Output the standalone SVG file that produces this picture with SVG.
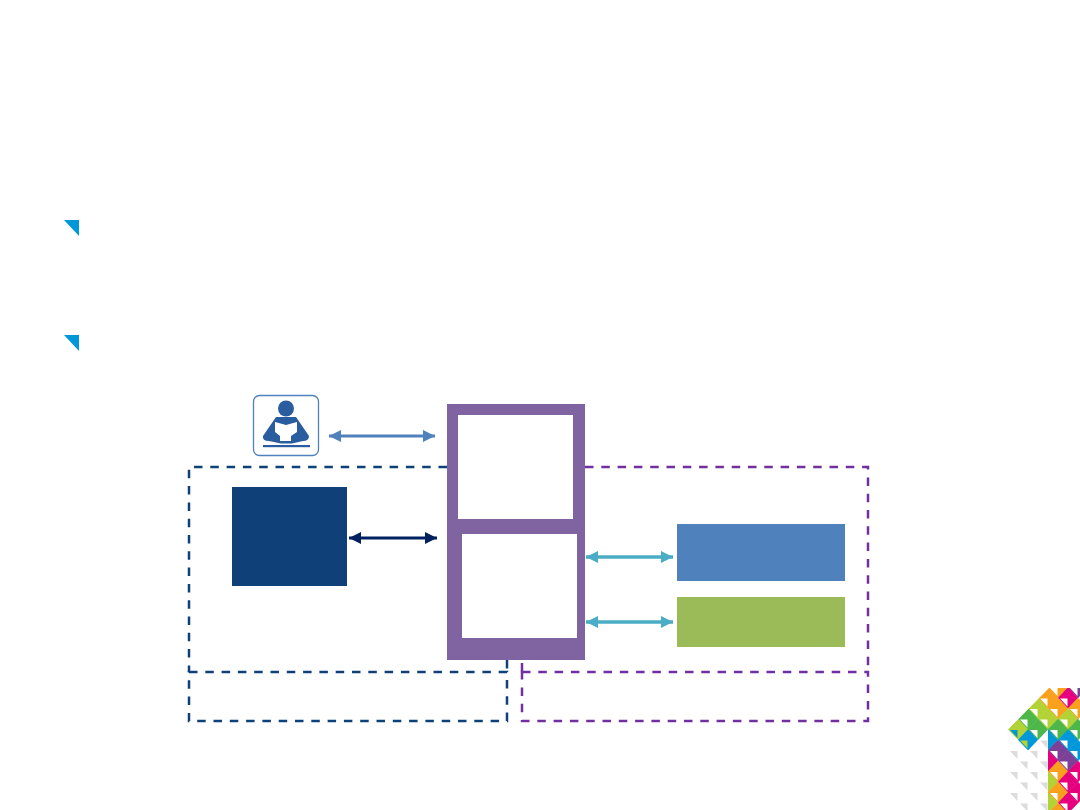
<svg xmlns="http://www.w3.org/2000/svg" width="1080" height="810" viewBox="0 0 1080 810">
<style>
.b{fill:#0098d9}
.d{fill:none;stroke-width:2.5;stroke-dasharray:8.5 7.8}
.navy{stroke:#0f4178}
.pur{stroke:#7030a0}
.o{fill:#f9a01b}.m{fill:#e6007e}.p{fill:#7d3f98}.l{fill:#b2d235}.g{fill:#4db848}.u{fill:#0098d9}
.w{fill:#fff}.y{fill:#dcdcdc}
</style>
<defs>
<marker id="a1" markerUnits="userSpaceOnUse" markerWidth="13" markerHeight="12" refX="12" refY="6" orient="auto-start-reverse"><path d="M0 0L12 6L0 12Z" fill="#4f81bd"/></marker>
<marker id="a2" markerUnits="userSpaceOnUse" markerWidth="13" markerHeight="12" refX="12" refY="6" orient="auto-start-reverse"><path d="M0 0L12 6L0 12Z" fill="#002060"/></marker>
<marker id="a3" markerUnits="userSpaceOnUse" markerWidth="13" markerHeight="12" refX="12" refY="6" orient="auto-start-reverse"><path d="M0 0L12 6L0 12Z" fill="#4bacc6"/></marker>
<path id="t" d="M-10.200 0L0-10.700L10.200 0L0 10.700Z"/>
<path id="n" d="M-8 .5H-.5V8.500Z"/>
<clipPath id="lc"><polygon points="1008,729.500 1049,688 1080,688 1080,810 1048,810 1048,729.500 1028,750.500"/></clipPath>
<filter id="soft" x="-5%" y="-5%" width="110%" height="110%"><feGaussianBlur stdDeviation="0.5"/></filter>
</defs>
<rect width="1080" height="810" fill="#fff"/>
<polygon class="b" points="64,220 79,220 79,236"/>
<polygon class="b" points="64,335 79,335 79,351"/>
<g id="connectors" fill="none">
<line x1="329" y1="436" x2="435" y2="436" stroke="#4f81bd" stroke-width="3" marker-start="url(#a1)" marker-end="url(#a1)"/>
<line x1="349" y1="538" x2="437" y2="538" stroke="#002060" stroke-width="3" marker-start="url(#a2)" marker-end="url(#a2)"/>
<line x1="586" y1="557" x2="673" y2="557" stroke="#4bacc6" stroke-width="3.300" marker-start="url(#a3)" marker-end="url(#a3)"/>
<line x1="586" y1="622" x2="673" y2="622" stroke="#4bacc6" stroke-width="3.300" marker-start="url(#a3)" marker-end="url(#a3)"/>
</g>
<g id="zone-navy"><path class="d navy" d="M447 467H189V672"/><rect class="d navy" x="189" y="672" width="318" height="49"/><line class="d navy" x1="507" y1="660" x2="507" y2="672"/></g>
<g id="zone-purple"><path class="d pur" d="M585 467H868V672"/><rect class="d pur" x="522" y="672" width="346" height="49"/><line class="d pur" x1="522" y1="663" x2="522" y2="672"/></g>
<g id="reader">
<rect x="253.500" y="395.500" width="65" height="60" rx="6" fill="#fff" stroke="#4f81bd" stroke-width="1.300"/>
<circle cx="286" cy="408.500" r="8" fill="#2a5d9f"/>
<path d="M276 417H296L309 436Q309 441 303 441L292 443.500H281L269 441Q262 441 263 436Z" fill="#2a5d9f"/>
<path d="M275 422L286 425L297 422V432L291 436V441H280V436L275 432Z" fill="#fff"/>
<rect x="263" y="445" width="47" height="2.200" fill="#2a5d9f"/>
</g>
<g id="hub"><path fill="#8064a2" fill-rule="evenodd" d="M447 404H585V660H447ZM458 415V519H573V415ZM462 534V638H577V534Z"/></g>
<g id="navy-box"><rect x="232" y="487" width="115" height="99" fill="#0f4178"/></g>
<g id="blue-box"><rect x="677" y="524" width="168" height="57" fill="#4f81bd"/></g>
<g id="green-box"><rect x="677" y="597" width="168" height="50" fill="#9bbb59"/></g>
<g id="logo" filter="url(#soft)">
<g class="y">
<use href="#n" x="1048" y="740"/><use href="#n" x="1018" y="750.500"/><use href="#n" x="1038" y="750.500"/>
<use href="#n" x="1028" y="761"/><use href="#n" x="1048" y="761"/><use href="#n" x="1018" y="771.500"/><use href="#n" x="1038" y="771.500"/>
<use href="#n" x="1028" y="782"/><use href="#n" x="1048" y="782"/><use href="#n" x="1018" y="792.500"/><use href="#n" x="1038" y="792.500"/>
<use href="#n" x="1028" y="803"/><use href="#n" x="1048" y="803"/>
</g>
<g clip-path="url(#lc)">
<use href="#t" class="o" x="1058" y="687.500"/><use href="#t" class="p" x="1078" y="687.500"/>
<use href="#t" class="o" x="1048" y="698"/><use href="#t" class="m" x="1068" y="698"/>
<use href="#t" class="l" x="1038" y="708.500"/><use href="#t" class="o" x="1058" y="708.500"/><use href="#t" class="o" x="1078" y="708.500"/>
<use href="#t" class="g" x="1028" y="719"/><use href="#t" class="l" x="1048" y="719"/><use href="#t" class="l" x="1068" y="719"/>
<use href="#t" class="l" x="1018" y="729.500"/><use href="#t" class="g" x="1038" y="729.500"/><use href="#t" class="g" x="1058" y="729.500"/><use href="#t" class="g" x="1078" y="729.500"/>
<use href="#t" class="u" x="1028" y="740"/><use href="#t" class="u" x="1048" y="740"/><use href="#t" class="u" x="1068" y="740"/>
<use href="#t" class="p" x="1058" y="750.500"/><use href="#t" class="u" x="1078" y="750.500"/>
<use href="#t" class="m" x="1048" y="761"/><use href="#t" class="p" x="1068" y="761"/>
<use href="#t" class="o" x="1058" y="771.500"/><use href="#t" class="m" x="1078" y="771.500"/>
<use href="#t" class="l" x="1048" y="782"/><use href="#t" class="m" x="1068" y="782"/>
<use href="#t" class="o" x="1058" y="792.500"/><use href="#t" class="m" x="1078" y="792.500"/>
<use href="#t" class="l" x="1048" y="803"/><use href="#t" class="m" x="1068" y="803"/>
<use href="#t" class="o" x="1058" y="813.500"/>
<g class="w">
<use href="#n" x="1058" y="687.500"/><use href="#n" x="1078" y="687.500"/><use href="#n" x="1048" y="698"/><use href="#n" x="1068" y="698"/>
<use href="#n" x="1038" y="708.500"/><use href="#n" x="1058" y="708.500"/><use href="#n" x="1078" y="708.500"/>
<use href="#n" x="1028" y="719"/><use href="#n" x="1048" y="719"/><use href="#n" x="1068" y="719"/>
<use href="#n" x="1038" y="729.500"/><use href="#n" x="1058" y="729.500"/><use href="#n" x="1078" y="729.500"/>
<use href="#n" x="1068" y="740"/><use href="#n" x="1058" y="750.500"/><use href="#n" x="1078" y="750.500"/>
<use href="#n" x="1068" y="761"/><use href="#n" x="1058" y="771.500"/><use href="#n" x="1078" y="771.500"/>
<use href="#n" x="1068" y="782"/><use href="#n" x="1058" y="792.500"/><use href="#n" x="1078" y="792.500"/>
<use href="#n" x="1068" y="803"/><use href="#n" x="1058" y="813.500"/>
</g>
<use href="#n" class="u" x="1018" y="729.500"/>
<use href="#n" class="l" x="1028" y="740"/>
</g>
</g>
</svg>
